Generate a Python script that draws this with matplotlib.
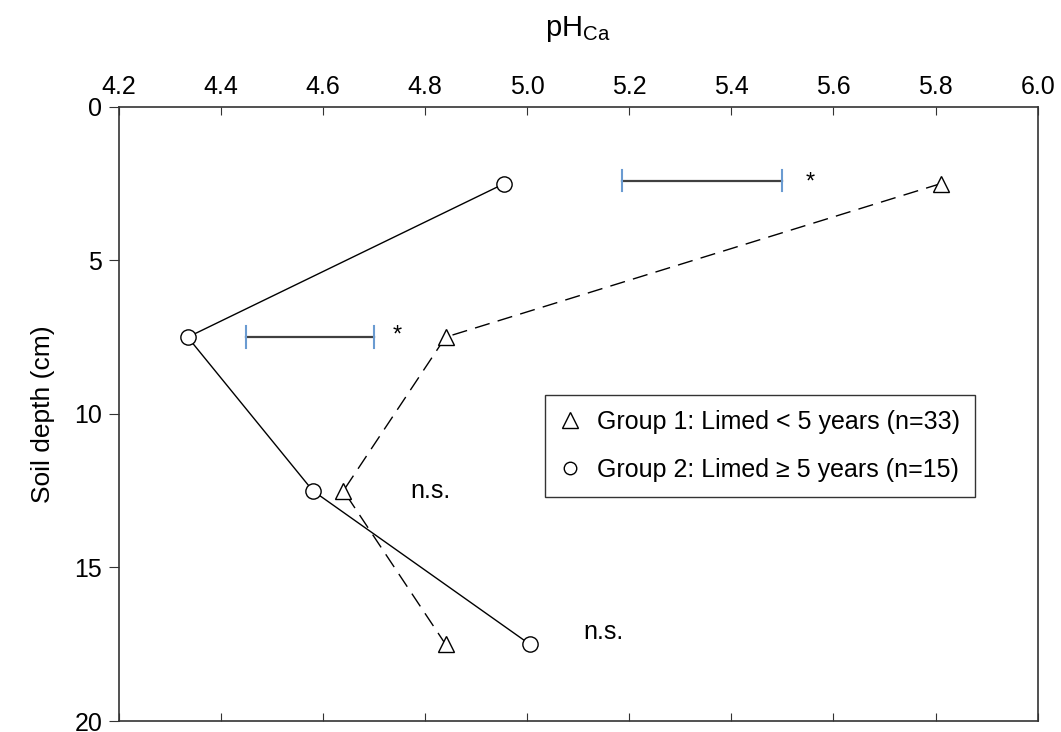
import matplotlib
matplotlib.use("Agg")
import matplotlib.pyplot as plt
from matplotlib.lines import Line2D

plt.rcParams['font.family'] = ['Liberation Sans', 'DejaVu Sans']

depth = [2.5, 7.5, 12.5, 17.5]
ph_group1 = [5.81, 4.84, 4.64, 4.84]
ph_group2 = [4.955, 4.335, 4.58, 5.005]

# LSD bars and significance labels
lsd_depth = [2.4, 7.5]
lsd_left = [5.185, 4.45]
lsd_right = [5.50, 4.70]
sig_x = [5.555, 4.745, 4.81, 5.15]
sig_y = [2.35, 7.35, 12.5, 17.1]
sig_text = ['*', '*', 'n.s.', 'n.s.']

fig = plt.figure(figsize=(10.61, 7.32), dpi=100)
ax = fig.add_axes([0.112, 0.015, 0.866, 0.839])

ax.plot(ph_group2, depth, color='black', lw=1.0, marker='o', ms=11,
        mfc='white', mec='black', mew=1.0, zorder=3)
ax.plot(ph_group1, depth, color='black', lw=1.0, ls=(0, (11, 6)), marker='^', ms=11,
        mfc='white', mec='black', mew=1.0, zorder=3)

for d, l, r in zip(lsd_depth, lsd_left, lsd_right):
    ax.plot([l, r], [d, d], color='#404040', lw=1.6, zorder=2)
    ax.plot([l, l], [d - 0.35, d + 0.35], color='#6a9bd1', lw=1.5, zorder=2)
    ax.plot([r, r], [d - 0.35, d + 0.35], color='#6a9bd1', lw=1.5, zorder=2)

for x, y, t in zip(sig_x, sig_y, sig_text):
    if t == '*':
        ax.text(x, y + 0.1, t, fontsize=17, ha='center', va='center')
    else:
        ax.text(x, y, t, fontsize=18, ha='center', va='center')

ax.set_xlim(4.2, 6.0)
ax.set_ylim(20, 0)
ax.set_xticks([4.2, 4.4, 4.6, 4.8, 5.0, 5.2, 5.4, 5.6, 5.8, 6.0])
ax.set_yticks([0, 5, 10, 15, 20])
ax.xaxis.set_ticks_position('both')
ax.xaxis.set_label_position('top')
ax.tick_params(axis='x', direction='in', length=6, labeltop=True, labelbottom=False,
               labelsize=18, pad=6, color='#333333')
ax.tick_params(axis='y', direction='out', length=7, labelsize=18, pad=5, color='#333333')
ax.set_xlabel(r'pH$_{\mathregular{Ca}}$', fontsize=21, labelpad=28)
ax.set_ylabel('Soil depth (cm)', fontsize=19, labelpad=14)
for s in ax.spines.values():
    s.set_color('#333333')
    s.set_linewidth(1.2)

handles = [Line2D([], [], ls='none', marker='^', ms=11, mfc='white', mec='black'),
           Line2D([], [], ls='none', marker='o', ms=9, mfc='white', mec='black')]
labels = ['Group 1: Limed < 5 years (n=33)', 'Group 2: Limed \u2265 5 years (n=15)']
leg = ax.legend(handles, labels, loc='upper left', bbox_to_anchor=(0.4636, 0.531),
                borderaxespad=0, fontsize=18, frameon=True, fancybox=False,
                edgecolor='black', handlelength=0.8, handletextpad=0.7,
                borderpad=0.6, labelspacing=0.95)
leg.get_frame().set_linewidth(1.0)

fig.savefig('out.png', dpi=100)
